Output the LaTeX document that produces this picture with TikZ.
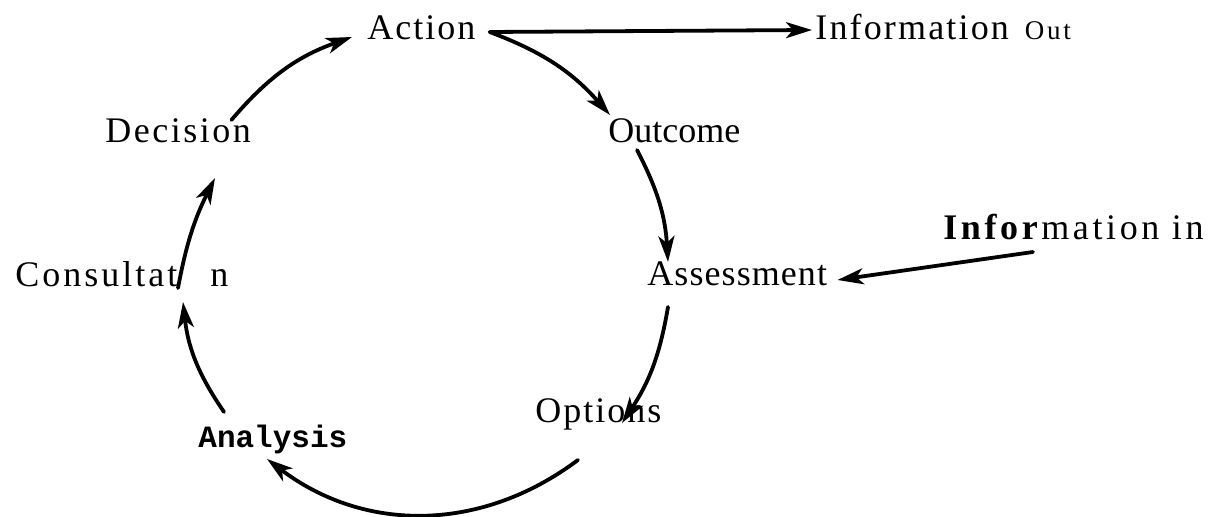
\documentclass[tikz,border=0pt]{standalone}
\usepackage{fontspec}
\setmainfont{Liberation Serif}
\setmonofont{Liberation Mono}
\usepackage{tikz}
\usetikzlibrary{arrows.meta, calc}
\tikzset{
  stage/.style={inner sep=0pt, anchor=base west, font=\fontsize{18}{20}\selectfont},
  monostage/.style={inner sep=0pt, anchor=base west, font=\fontsize{15.5}{18}\selectfont\ttfamily\bfseries},
  flow/.style={-{Stealth[length=13pt, width=8pt, inset=3.5pt]}, line width=1.9pt, line cap=round},
}

\begin{document}
\begin{tikzpicture}[x=0.5pt, y=0.5pt]
  \useasboundingbox (0,0) rectangle (1212,-517);

  % Stages of the cycle
  \node[stage] (act) at (367,-40) {\addfontfeatures{LetterSpace=5.5}Action};
  \node[stage] (outc) at (608,-143) {Outcome};
  \node[stage] (ass) at (647,-286) {\addfontfeatures{LetterSpace=3}Assessment};
  \node[stage] (opt) at (535,-423) {\addfontfeatures{LetterSpace=5.5}Options};
  \node[monostage] (ana) at (198,-448) {Analysis};
  \node[stage] (cons) at (15,-287) {\addfontfeatures{LetterSpace=8.3}Consultat\hspace{16.5pt}n};
  \node[stage] (dec) at (105,-143) {\addfontfeatures{LetterSpace=7}Decision};

  % Information in and out
  \node[stage] (infout) at (815,-40) {\addfontfeatures{LetterSpace=6}Information\hspace{8pt}{\fontsize{13.5}{15}\selectfont\addfontfeatures{LetterSpace=10}Out}};
  \node[stage] (infin) at (943,-240) {\addfontfeatures{LetterSpace=10}\textbf{Infor}mation in};

  % Cycle arrows
  \draw[flow] ($(dec.base east)+(-20,23)$) to[bend left=15] ($(act.base west)+(-15,3)$);
  \draw[flow] ($(act.base east)+(14,8)$) to[bend left=14] ($(outc.base west)+(2,28)$);
  \draw[flow] ($(outc.base west)+(29,-7)$) to[bend left=12] ($(ass.base west)+(21,24)$);
  \draw[flow] ($(ass.base west)+(21,-21)$) to[bend left=12] ($(opt.base west)+(87,0)$);
  \draw[flow] ($(opt.base west)+(43,-37)$) to[bend left=37] ($(ana.base west)+(69,-11)$);
  \draw[flow] ($(ana.base west)+(26,36)$) to[bend left=14] ($(cons.base west)+(168,-15)$);
  \draw[flow] ($(cons.base west)+(163,-1)$) to[bend left=8] ($(dec.base west)+(110,-35)$);

  % Information flows
  \draw[flow] ($(act.base east)+(14,8)$) -- ($(infout.base west)+(-3,10)$);
  \draw[flow] ($(infin.base west)+(90,-12)$) -- ($(ass.base east)+(10,6)$);
\end{tikzpicture}
\end{document}
